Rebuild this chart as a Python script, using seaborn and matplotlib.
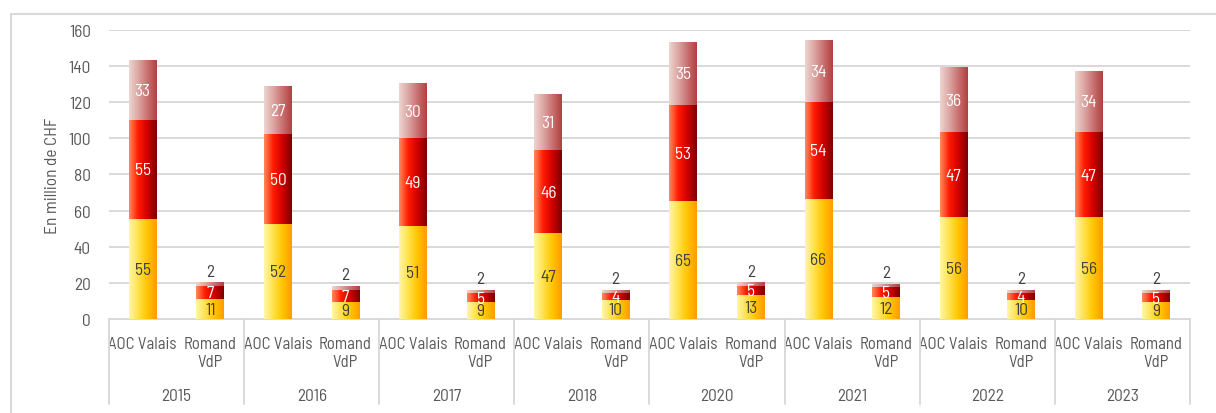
import numpy as np
import pandas as pd
import matplotlib
matplotlib.use("Agg")
import matplotlib.pyplot as plt
import matplotlib.transforms as mtransforms
from matplotlib.colors import LinearSegmentedColormap
from matplotlib.lines import Line2D
import seaborn as sns


# Data (million CHF)
YEARS = ["2015", "2016", "2017", "2018", "2020", "2021", "2022", "2023"]
TYPES = ["AOC Valais", "Romand\nVdP"]

AOC_LOW = [55, 52, 51, 47, 65, 66, 56, 56]
AOC_MID = [55, 50, 49, 46, 53, 54, 47, 47]
AOC_TOP = [33, 27, 30, 31, 35, 34, 36, 34]

VDP_LOW = [11, 9, 9, 10, 13, 12, 10, 9]
VDP_MID = [7, 7, 5, 4, 5, 5, 4, 5]
VDP_TOP = [2, 2, 2, 2, 2, 2, 2, 2]

Y_TICKS = [0, 20, 40, 60, 80, 100, 120, 140, 160]

# Horizontal gradients of each segment (left -> right)
GRAD_LOW = ["#FFF7A8", "#FFE14A", "#FFC400", "#FF9A00"]
GRAD_MID = ["#FF8A5C", "#FF1A00", "#D00000", "#7A0000"]
GRAD_TOP = ["#EED5D0", "#DCA6A3", "#C97070", "#B04040"]

GRID_COLOR = "#D9D9D9"
TEXT_COLOR = "#595959"
LABEL_DARK = "#404040"

rows = []
for i, year in enumerate(YEARS):
    rows.append({"year": year, "type": TYPES[0],
                 "low": AOC_LOW[i], "mid": AOC_MID[i], "top": AOC_TOP[i]})
    rows.append({"year": year, "type": TYPES[1],
                 "low": VDP_LOW[i], "mid": VDP_MID[i], "top": VDP_TOP[i]})
df = pd.DataFrame(rows)
df["bar"] = df["year"] + " " + df["type"]
df["cum_mid"] = df["low"] + df["mid"]
df["cum_top"] = df["cum_mid"] + df["top"]
ORDER = list(df["bar"])


def gradient_fill(ax, patch, bottom, top, colors, z):
    cmap = LinearSegmentedColormap.from_list("g", colors)
    grad = np.linspace(0, 1, 128).reshape(1, -1)
    x0 = patch.get_x()
    x1 = x0 + patch.get_width()
    ax.imshow(grad, cmap=cmap, extent=[x0, x1, bottom, top],
              aspect="auto", origin="lower", zorder=z, interpolation="bicubic")


sns.set_theme(style="white")
plt.rcParams["font.family"] = ["Barlow Semi Condensed", "DejaVu Sans"]

fig = plt.figure(figsize=(12.16, 4.14), dpi=100)
ax = fig.add_axes([0.0896, 0.227, 0.889, 0.699])

layers = [
    ("cum_top", "cum_mid", GRAD_TOP),
    ("cum_mid", "low", GRAD_MID),
    ("low", None, GRAD_LOW),
]
for z, (col, below, colors) in enumerate(layers):
    sns.barplot(data=df, x="bar", y=col, order=ORDER, color=colors[-1],
                width=0.41, errorbar=None, ax=ax, zorder=2)
    patches = ax.patches[-len(df):]
    for patch, (_, row) in zip(patches, df.iterrows()):
        patch.set_facecolor("none")
        patch.set_edgecolor("none")
        bottom = row[below] if below else 0
        gradient_fill(ax, patch, bottom, row[col], colors, 3 + z)

# Segment labels
for i, row in df.iterrows():
    x = i
    ax.text(x, row["low"] / 2, f"{row['low']}", ha="center", va="center",
            color=LABEL_DARK, fontsize=12.5, zorder=10)
    ax.text(x, row["low"] + row["mid"] / 2, f"{row['mid']}", ha="center",
            va="center", color="white", fontsize=12.5, zorder=10)
    if row["type"] == TYPES[0]:
        ax.text(x, row["cum_mid"] + row["top"] / 2, f"{row['top']}",
                ha="center", va="center", color="white", fontsize=12.5, zorder=10)
    else:
        ax.annotate(f"{row['top']}", (x, row["cum_top"]), xytext=(0, 3),
                    textcoords="offset points", ha="center", va="bottom",
                    color=LABEL_DARK, fontsize=12.5, zorder=10)

# Axes styling
ax.set_xlim(-0.5, len(df) - 0.5)
ax.set_ylim(0, 160)
ax.set_yticks(Y_TICKS)
ax.yaxis.grid(True, color=GRID_COLOR, linewidth=1.4)
ax.set_axisbelow(True)
for side in ["top", "right", "left"]:
    ax.spines[side].set_visible(False)
ax.spines["bottom"].set_color(GRID_COLOR)
ax.spines["bottom"].set_linewidth(1.4)

ax.set_xticks(range(len(df)))
ax.set_xticklabels(list(df["type"]), fontsize=12, color=TEXT_COLOR,
                   linespacing=1.3, va="top")
ax.tick_params(axis="x", length=0, pad=12)
ax.tick_params(axis="y", length=0, pad=13, labelsize=12.5, labelcolor=TEXT_COLOR)
ax.set_xlabel("")
ax.set_ylabel("En million de CHF", fontsize=12.5, color=TEXT_COLOR)
ax.yaxis.set_label_coords(-0.045, 0.5)

# Two-level category axis: separators and year labels
trans = mtransforms.blended_transform_factory(ax.transData, ax.transAxes)
for k in range(len(YEARS) + 1):
    xb = 2 * k - 0.5
    ax.add_line(Line2D([xb, xb], [0, -0.294], transform=trans, color=GRID_COLOR,
                       linewidth=1.4, clip_on=False))
for k, year in enumerate(YEARS):
    ax.text(2 * k + 0.5, -0.264, year, transform=trans, ha="center",
            va="center", fontsize=12.5, color=TEXT_COLOR)

# Outer chart frame (top and left edges visible)
fig.add_artist(Line2D([0.00905, 1.0], [0.9638, 0.9638], transform=fig.transFigure,
                      color=GRID_COLOR, linewidth=1.5))
fig.add_artist(Line2D([0.00905, 0.00905], [0.0, 0.9638], transform=fig.transFigure,
                      color=GRID_COLOR, linewidth=1.5))

fig.savefig("out.png", dpi=100)
plt.close(fig)
